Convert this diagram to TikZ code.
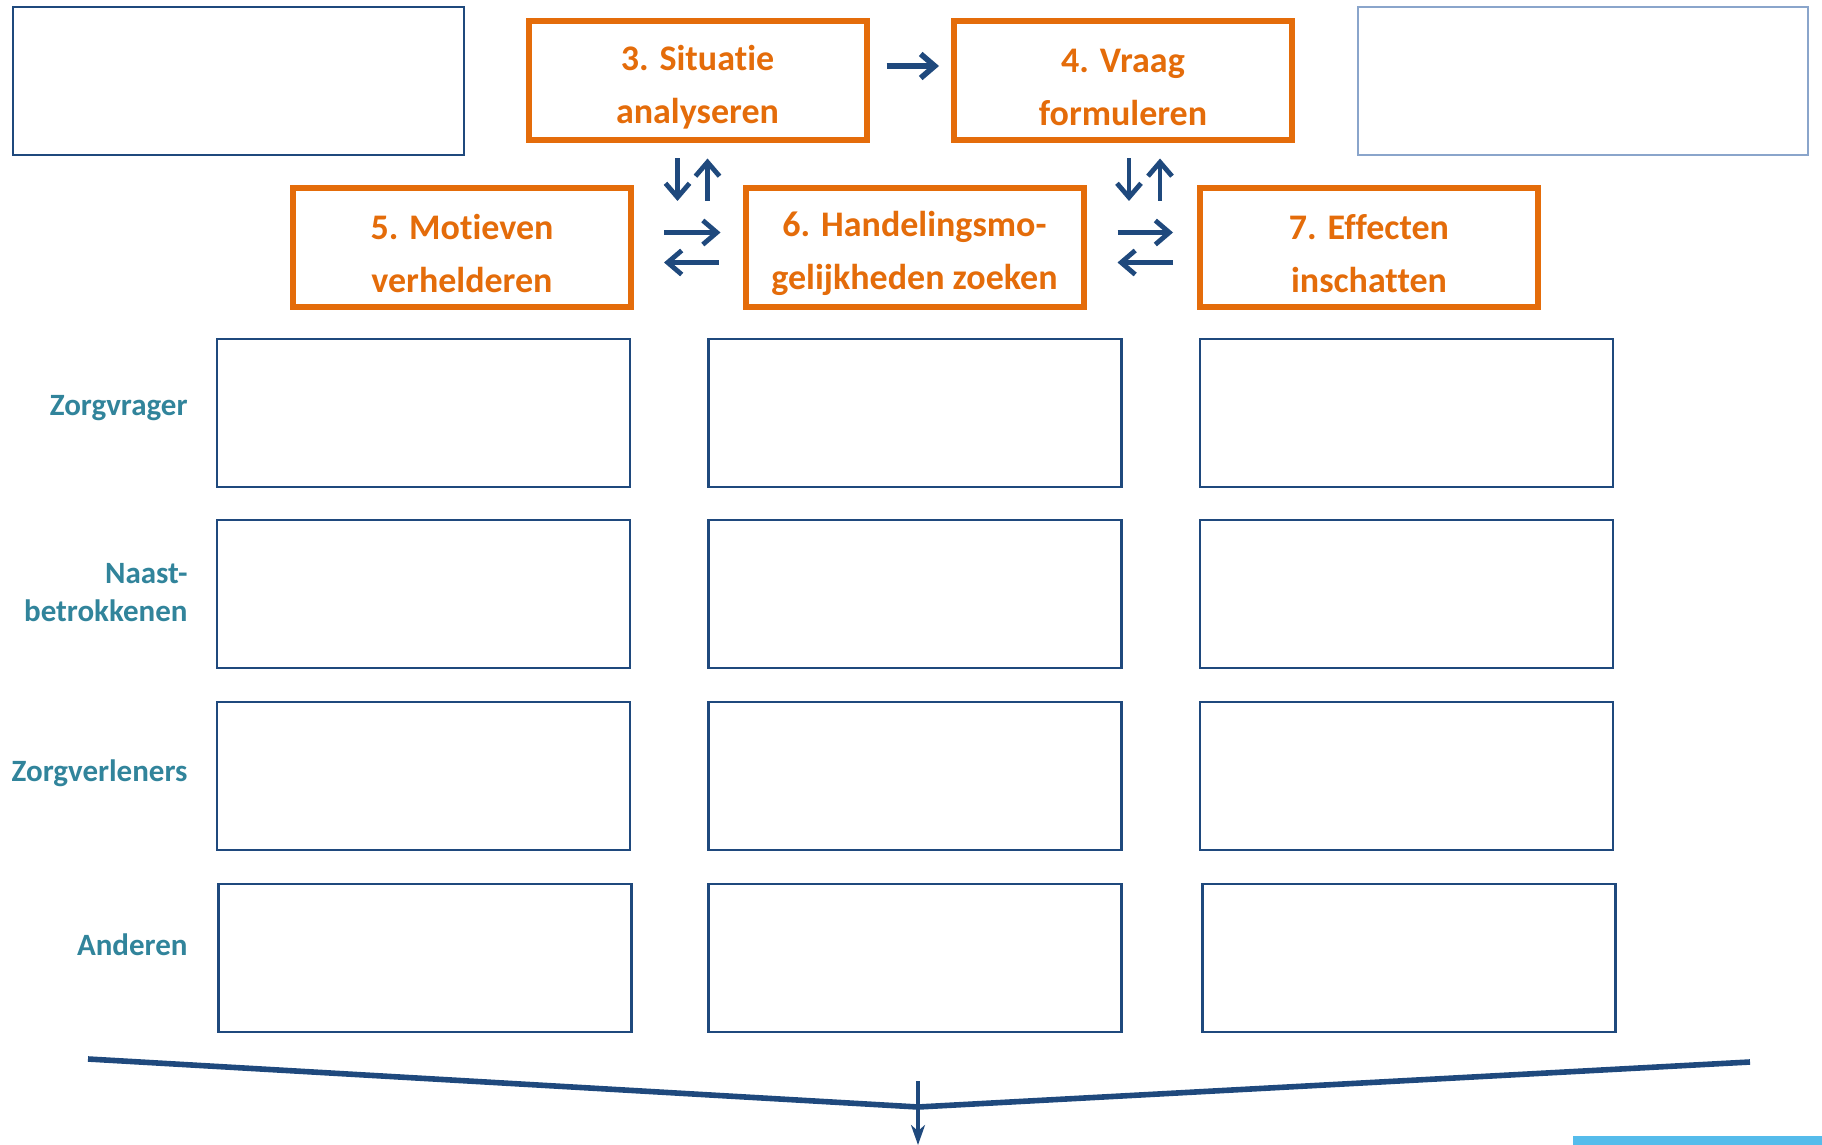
\documentclass[tikz,border=0pt]{standalone}
\usepackage{fontspec}
\setmainfont{Carlito}[Ligatures=NoCommon]
\usetikzlibrary{arrows.meta}

\definecolor{oranje}{HTML}{E46C0A}
\definecolor{donkerblauw}{HTML}{1F497D}
\definecolor{petrol}{HTML}{31849B}
\definecolor{grijsblauw}{HTML}{8AA5CB}
\definecolor{lichtblauw}{HTML}{55BCEB}

\begin{document}
\begin{tikzpicture}[x=0.5pt,y=-0.5pt,
        staptekst/.style={text=oranje,font=\fontsize{18}{26.5}\selectfont\bfseries,align=center,inner sep=0pt,yshift=-3pt},
        stap/.style={draw=oranje,line width=3pt,minimum width=169pt,minimum height=59.5pt,inner sep=0pt,
            label={[staptekst]center:#1}},
        vak/.style={draw=donkerblauw,line width=1.1pt,minimum width=206.5pt,minimum height=74pt,inner sep=0pt},
        rij/.style={text=petrol,font=\fontsize{15.5}{19}\selectfont\bfseries,align=right,anchor=east,inner sep=0pt},
        pijl/.style={donkerblauw,line width=2.4pt,-{Straight Barb[length=7pt,width=12pt]}}]
        
        \useasboundingbox (0,0) rectangle (1822,1145);
        %\draw [help lines,step=100] (0,0) grid (1822,1145);
        
        \node[draw=donkerblauw,line width=1.2pt,minimum width=225.5pt,minimum height=74pt] (leeg1) at (238.5,81) {};
        \node[draw=grijsblauw,line width=1.2pt,minimum width=225pt,minimum height=74pt] (leeg2) at (1583,81) {};
        
        \node[stap={3. Situatie\\analyseren}] (b3) at (697.5,81) {};
        \node[stap={4. Vraag\\formuleren}] (b4) at (1123,81) {};
        
        \node[stap={5. Motieven\\verhelderen}] (b5) at (462,247.5) {};
        \node[stap={6. Handelingsmo-\\gelijkheden zoeken}] (b6) at (914.5,247.5) {};
        \node[stap={7. Effecten\\inschatten}] (b7) at (1369,247.5) {};
        
        
        
        \draw[pijl,line width=2.8pt,shorten <=8.5pt,shorten >=6pt] ([yshift=7.5pt]b3.east) -- ([yshift=7.5pt]b4.west);
        
        \draw[pijl,shorten <=7.5pt,shorten >=-8pt] ([xshift=-10pt]b3.south) -- ([xshift=-10pt]b3.south |- b6.north);
        \draw[pijl,shorten <=-8pt,shorten >=7.5pt] ([xshift=5pt]b3.south |- b6.north) -- ([xshift=5pt]b3.south);
        
        \draw[pijl,shorten <=7.5pt,shorten >=-8pt] ([xshift=3pt]b4.south) -- ([xshift=3pt]b4.south |- b7.north);
        \draw[pijl,shorten <=-8pt,shorten >=7.5pt] ([xshift=18.5pt]b4.south |- b7.north) -- ([xshift=18.5pt]b4.south);
        
        \draw[pijl,shorten <=15pt,shorten >=11pt] ([yshift=7.5pt]b5.east) -- ([yshift=7.5pt]b6.west);
        \draw[pijl,shorten <=12pt,shorten >=15pt] ([yshift=-7.5pt]b6.west) -- ([yshift=-7.5pt]b5.east);
        
        \draw[pijl,shorten <=15.5pt,shorten >=12pt] ([yshift=7.5pt]b6.east) -- ([yshift=7.5pt]b7.west);
        \draw[pijl,shorten <=12pt,shorten >=15.5pt] ([yshift=-7.5pt]b7.west) -- ([yshift=-7.5pt]b6.east);
        
        
        
        \node[rij] (zorgvrager) at (188,408) {Zorgvrager};
        \node[rij] (naasten) at (188,593) {Naast-\\betrokkenen};
        \node[rij] (zorgverleners) at (188,773) {Zorgverleners};
        \node[rij] (anderen) at (188,945) {Anderen};
        
        \node[vak] (v11) at (423.5,413) {};
        \node[vak] (v12) at (915,413) {};
        \node[vak] (v13) at (1406.5,413) {};
        
        \node[vak] (v21) at (423.5,594) {};
        \node[vak] (v22) at (915,594) {};
        \node[vak] (v23) at (1406.5,594) {};
        
        \node[vak] (v31) at (423.5,776) {};
        \node[vak] (v32) at (915,776) {};
        \node[vak] (v33) at (1406.5,776) {};
        
        \node[vak] (v41) at (425,958) {};
        \node[vak] (v42) at (915,958) {};
        \node[vak] (v43) at (1409,958) {};
        
        
        
        \coordinate (links) at (88,1059);
        \coordinate (punt) at (918,1107);
        \coordinate (rechts) at (1750,1062);
        \coordinate (pijltop) at (918,1081);
        \coordinate (pijlvoet) at (918,1145);
        
        \draw[donkerblauw,line width=2.8pt] (links) -- (punt) -- (rechts);
        \draw[donkerblauw,line width=1.6pt,-{Stealth[length=10pt,width=7pt,inset=3pt]}] (pijltop) -- (pijlvoet);
        
        \fill[lichtblauw] (1573,1136) rectangle (1822,1145);
        
    \end{tikzpicture}
\end{document}
